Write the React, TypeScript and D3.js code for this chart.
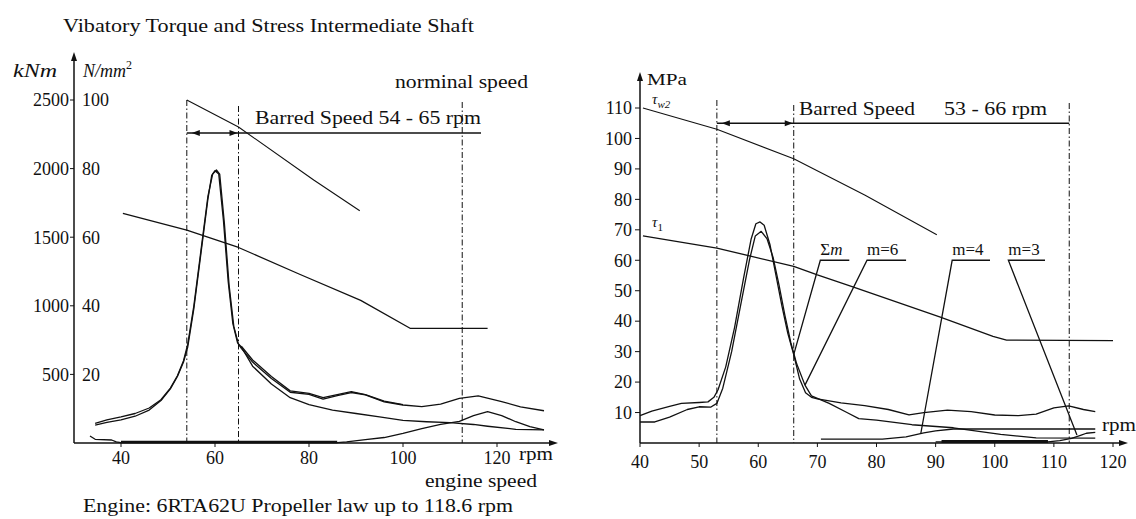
import React from 'react';
import * as d3 from 'd3';

// ---- tick labels ----
const leftRpmTicks = [40, 60, 80, 100, 120];
const torqueTicks = [500, 1000, 1500, 2000, 2500];
const stressTicks = [20, 40, 60, 80, 100];
const rightRpmTicks = [40, 50, 60, 70, 80, 90, 100, 110, 120];
const mpaTicks = [10, 20, 30, 40, 50, 60, 70, 80, 90, 100, 110];

// ---- speeds ----
const leftBarred = [54, 65];
const rightBarred = [53, 66];
const nominalRpm = 112.6;
const leftBarredLevel = 2259; // kNm
const leftBarredEnd = 116.6;
const rightBarredLevel = 105; // MPa

// ---- left chart: torque kNm vs rpm ----
const leftTauTransient = [[54, 2500], [65, 2303], [81, 1917], [90.8, 1693]];
const leftTauContinuous = [[40.4, 1674], [54, 1552], [65, 1425], [78, 1230], [91, 1040], [101.5, 836], [118, 836]];
const leftTotal = [[34.5, 143], [37, 168], [40, 190], [43, 215], [46, 255], [48.5, 315], [50.5, 400], [52, 490], [53.3, 600], [54.2, 720],
  [55.5, 1000], [57, 1400], [58.5, 1800], [59.5, 1960], [60.3, 1990], [61, 1960], [62, 1600], [63, 1150], [64, 850], [65, 720],
  [65.6, 690], [68, 590], [72, 470], [76, 370], [80, 355], [83, 320], [86, 345], [89, 368], [92, 350], [96, 300], [100, 277],
  [104, 265], [108, 284], [112, 326], [116, 343], [121, 301], [125, 264], [130, 235]];
const leftTotalB = [[65.6, 705], [68, 605], [72, 485], [76, 380], [80, 362], [83, 330], [86, 352], [89, 375], [92, 352], [96, 305], [100, 280]];
const leftMain = [[34.5, 131], [37, 150], [40, 168], [43, 195], [46, 240], [48.5, 310], [50.5, 395], [52, 485], [53.3, 590], [54.2, 700],
  [55.5, 980], [57, 1380], [58.5, 1780], [59.3, 1950], [60, 1985], [60.8, 1960], [61.8, 1620], [62.8, 1180], [63.8, 870], [64.8, 730],
  [65.6, 700], [68, 560], [72, 430], [76, 330], [80, 280], [85, 240], [90, 215], [95, 190], [100, 165], [105, 155], [110, 148],
  [115, 135], [118, 122], [124, 100], [130, 95]];
const leftHigher = [[33.4, 51], [34.5, 27], [38, 22], [39, 8], [40, 3], [60, 3], [86, 3], [88, 8], [92, 25], [96, 40], [100, 70],
  [104, 105], [108, 135], [112, 158], [115, 200], [118, 228], [121, 200], [124, 155], [127, 120], [130, 95]];

// ---- right chart: stress MPa vs rpm ----
const rightTau2 = [[40.5, 110], [53, 103], [66, 93.3], [78, 81.4], [90.2, 68.4]];
const rightTau1 = [[40.5, 68], [53, 64], [66, 58], [70, 55.2], [76, 51.3], [90.8, 41.3], [99.7, 35], [102, 33.8], [120, 33.6]];
const sumM = [[40, 9], [42, 10.5], [45, 12], [47, 13], [50, 13.3], [51.5, 13.5], [52.5, 15], [53.2, 17.5], [54.5, 25], [56, 38],
  [57.5, 54], [58.8, 67], [59.6, 72], [60.3, 72.6], [61, 71.5], [62, 65], [63, 55], [64, 45], [65, 36], [66, 29], [67, 21],
  [68, 16.5], [69, 15], [70, 14.5], [74, 13.2], [78, 12.3], [82, 11], [85.5, 9.2], [88, 10], [92, 10.8], [96, 10.3], [100, 9.2],
  [104, 9], [107, 9.5], [110, 11.5], [112.5, 12.2], [115, 11], [117, 10.3]];
const m6 = [[40, 6.9], [42.5, 6.9], [45, 8.5], [48, 11], [50, 11.9], [52, 11.8], [53, 13], [54, 18], [55.5, 30], [57, 45],
  [58.5, 60], [59.5, 68], [60.5, 69.5], [61.5, 67], [62.5, 61], [63.5, 52], [64.5, 42], [65.5, 33], [66.5, 26], [67.9, 19],
  [69, 15.5], [72, 13], [75, 10], [77, 8], [80, 7.5], [86, 6], [93, 5], [101, 2.8], [107, 1.7], [117, 1.6]];
const m4 = [[70.6, 1.3], [81, 1.3], [85, 2], [88, 3.3], [90, 4], [93, 4.6], [117, 4.6]];
const m3 = [[90, 0.4], [109, 0.4], [111, 0.8], [113, 1.5], [114.5, 2.5], [115.5, 3.2], [117, 3.5]];

// order labels: text, underline from/to rpm, underline level (MPa), leader end [rpm, MPa]
const orderLabels = [
  { t: 'Σ', it: 'm', a: 70.5, b: 75.4, v: 60, end: [66, 29] },
  { t: 'm=6', it: '', a: 78.4, b: 85, v: 60, end: [67.9, 19] },
  { t: 'm=4', it: '', a: 92.8, b: 99.2, v: 60, end: [87.5, 3.2] },
  { t: 'm=3', it: '', a: 102.3, b: 108.5, v: 60, end: [113.9, 2.6] },
];

const FONT = '"Liberation Serif", "DejaVu Serif", serif';
const ink = '#111';
const dashDot = '6 2.5 1.5 2.5';

export default function App() {
  const xL = d3.scaleLinear().domain([30, 120]).range([74, 497]);
  const yL = d3.scaleLinear().domain([0, 2500]).range([443, 100]);
  const yLs = d3.scaleLinear().domain([0, 100]).range([443, 100]);
  const xR = d3.scaleLinear().domain([40, 120]).range([640, 1113]);
  const yR = d3.scaleLinear().domain([0, 110]).range([443, 108]);

  const lineL = d3.line<number[]>().x(d => xL(d[0])).y(d => yL(d[1]));
  const lineR = d3.line<number[]>().x(d => xR(d[0])).y(d => yR(d[1]));

  const curve = (d: string | null, w = 1.3) => (
    <path d={d || ''} fill="none" stroke={ink} strokeWidth={w} strokeLinejoin="round" />
  );

  const arrowUp = (x: number, y: number) => (
    <polygon points={`${x},${y} ${x - 3},${y + 9} ${x + 3},${y + 9}`} fill={ink} />
  );
  const arrowRight = (x: number, y: number) => (
    <polygon points={`${x},${y} ${x - 9},${y - 3} ${x - 9},${y + 3}`} fill={ink} />
  );
  const head = (x: number, y: number, dir: number) => (
    <polygon points={`${x},${y} ${x - dir * 8},${y - 3} ${x - dir * 8},${y + 3}`} fill={ink} />
  );

  const x0L = xL(30), yBase = 443;
  const x0R = xR(40);

  return (
    <svg width={1136} height={519} style={{ position: 'absolute', left: 0, top: 0, background: '#fff' }}
      fontFamily={FONT} fill={ink}>
      {/* ---------------- LEFT CHART ---------------- */}
      <text x={63} y={32} fontSize={18} textLength={411} lengthAdjust="spacingAndGlyphs">
        Vibatory Torque and Stress Intermediate Shaft
      </text>
      <text x={13} y={77} fontSize={18} fontStyle="italic" textLength={44} lengthAdjust="spacingAndGlyphs">kNm</text>
      <text x={83} y={77} fontSize={18} fontStyle="italic">
        N/mm<tspan fontSize={12} dy={-8} fontStyle="normal">2</tspan>
      </text>

      {/* axes */}
      <line x1={x0L} y1={yBase} x2={x0L} y2={60} stroke={ink} strokeWidth={1.5} />
      {arrowUp(x0L, 52)}
      <line x1={x0L} y1={yBase} x2={550} y2={yBase} stroke={ink} strokeWidth={1.5} />
      {arrowRight(558, yBase)}

      {torqueTicks.map(t => (
        <g key={'tq' + t}>
          <line x1={x0L - 4} x2={x0L} y1={yL(t)} y2={yL(t)} stroke={ink} />
          <text x={x0L - 5} y={yL(t)} dy="0.35em" fontSize={18} textAnchor="end">{t}</text>
        </g>
      ))}
      {stressTicks.map(t => (
        <text key={'st' + t} x={x0L + 8} y={yLs(t)} dy="0.35em" fontSize={18}>{t}</text>
      ))}
      {leftRpmTicks.map(t => (
        <g key={'lr' + t}>
          <line x1={xL(t)} x2={xL(t)} y1={yBase} y2={yBase + 4} stroke={ink} />
          <text x={xL(t)} y={464} fontSize={18} textAnchor="middle">{t}</text>
        </g>
      ))}
      <text x={519} y={460} fontSize={18} textLength={34} lengthAdjust="spacingAndGlyphs">rpm</text>
      <text x={425} y={487} fontSize={18} textLength={112} lengthAdjust="spacingAndGlyphs">engine speed</text>
      <text x={83} y={512} fontSize={18} textLength={430} lengthAdjust="spacingAndGlyphs">
        Engine: 6RTA62U Propeller law up to 118.6 rpm
      </text>

      {/* barred & nominal speed */}
      <line x1={xL(leftBarred[0])} x2={xL(leftBarred[0])} y1={yL(2500)} y2={yBase} stroke={ink} strokeDasharray={dashDot} />
      <line x1={xL(leftBarred[1])} x2={xL(leftBarred[1])} y1={106} y2={yBase} stroke={ink} strokeDasharray={dashDot} />
      <line x1={xL(nominalRpm)} x2={xL(nominalRpm)} y1={102} y2={yBase} stroke={ink} strokeDasharray={dashDot} />
      <line x1={xL(leftBarred[0])} x2={xL(leftBarredEnd)} y1={yL(leftBarredLevel)} y2={yL(leftBarredLevel)} stroke={ink} strokeWidth={1.5} />
      {head(xL(leftBarred[0]) + 5, yL(leftBarredLevel), -1)}
      {head(xL(leftBarred[1]) - 1, yL(leftBarredLevel), 1)}
      <text x={255} y={124} fontSize={18} textLength={226} lengthAdjust="spacingAndGlyphs">Barred Speed 54 - 65 rpm</text>
      <text x={395} y={88} fontSize={18} textLength={133} lengthAdjust="spacingAndGlyphs">norminal speed</text>

      {curve(lineL(leftTauTransient), 1.1)}
      {curve(lineL(leftTauContinuous), 1.3)}
      {curve(lineL(leftMain))}
      {curve(lineL(leftTotal))}
      {curve(lineL(leftTotalB))}
      {curve(lineL(leftHigher))}
      <line x1={xL(40)} x2={xL(86)} y1={yBase - 1} y2={yBase - 1} stroke={ink} strokeWidth={2.5} />

      {/* ---------------- RIGHT CHART ---------------- */}
      <line x1={x0R} y1={yBase} x2={x0R} y2={80} stroke={ink} strokeWidth={1.5} />
      {arrowUp(x0R, 72)}
      <line x1={x0R} y1={yBase} x2={1120} y2={yBase} stroke={ink} strokeWidth={1.5} />
      {arrowRight(1128, yBase)}
      <text x={647} y={85} fontSize={17} textLength={40} lengthAdjust="spacingAndGlyphs">MPa</text>

      {mpaTicks.map(t => (
        <g key={'mp' + t}>
          <line x1={x0R - 5} x2={x0R} y1={yR(t)} y2={yR(t)} stroke={ink} />
          <text x={x0R - 8} y={yR(t)} dy="0.35em" fontSize={18} textAnchor="end">{t}</text>
        </g>
      ))}
      {rightRpmTicks.map(t => (
        <g key={'rr' + t}>
          <line x1={xR(t)} x2={xR(t)} y1={yBase} y2={yBase + 4} stroke={ink} />
          <text x={xR(t)} y={468} fontSize={18} textAnchor="middle">{t}</text>
        </g>
      ))}
      <text x={1102} y={431} fontSize={18} textLength={34} lengthAdjust="spacingAndGlyphs">rpm</text>

      <line x1={xR(rightBarred[0])} x2={xR(rightBarred[0])} y1={100} y2={yBase} stroke={ink} strokeDasharray={dashDot} />
      <line x1={xR(rightBarred[1])} x2={xR(rightBarred[1])} y1={105} y2={yBase} stroke={ink} strokeDasharray={dashDot} />
      <line x1={xR(nominalRpm)} x2={xR(nominalRpm)} y1={103} y2={yBase} stroke={ink} strokeDasharray={dashDot} />
      <line x1={xR(rightBarred[0])} x2={xR(nominalRpm)} y1={yR(rightBarredLevel)} y2={yR(rightBarredLevel)} stroke={ink} strokeWidth={1.5} />
      {head(xR(rightBarred[0]) + 5, yR(rightBarredLevel), -1)}
      {head(xR(rightBarred[1]) - 1, yR(rightBarredLevel), 1)}
      <text x={799} y={115} fontSize={18} textLength={116} lengthAdjust="spacingAndGlyphs">Barred Speed</text>
      <text x={944} y={115} fontSize={18} textLength={103} lengthAdjust="spacingAndGlyphs">53 - 66 rpm</text>

      <text x={652} y={104} fontSize={15} fontStyle="italic">τ<tspan fontSize={11} dy={4}>w2</tspan></text>
      <text x={652} y={227} fontSize={15} fontStyle="italic">τ<tspan fontSize={11} dy={4} fontStyle="normal">1</tspan></text>

      {curve(lineR(rightTau2), 1.1)}
      {curve(lineR(rightTau1), 1.3)}
      {curve(lineR(sumM))}
      {curve(lineR(m6))}
      {curve(lineR(m4))}
      {curve(lineR(m3))}
      <line x1={xR(91)} x2={xR(109)} y1={yBase - 1.5} y2={yBase - 1.5} stroke={ink} strokeWidth={3} />

      {orderLabels.map(l => {
        const xa = xR(l.a), xb = xR(l.b), yv = yR(l.v);
        return (
          <g key={l.t}>
            <text x={xa} y={yv - 5} fontSize={17}>
              {l.t}{l.it ? <tspan fontStyle="italic">{l.it}</tspan> : null}
            </text>
            <polyline points={`${xb},${yv} ${xa},${yv} ${xR(l.end[0])},${yR(l.end[1])}`} fill="none" stroke={ink} strokeWidth={1.3} />
          </g>
        );
      })}
    </svg>
  );
}
